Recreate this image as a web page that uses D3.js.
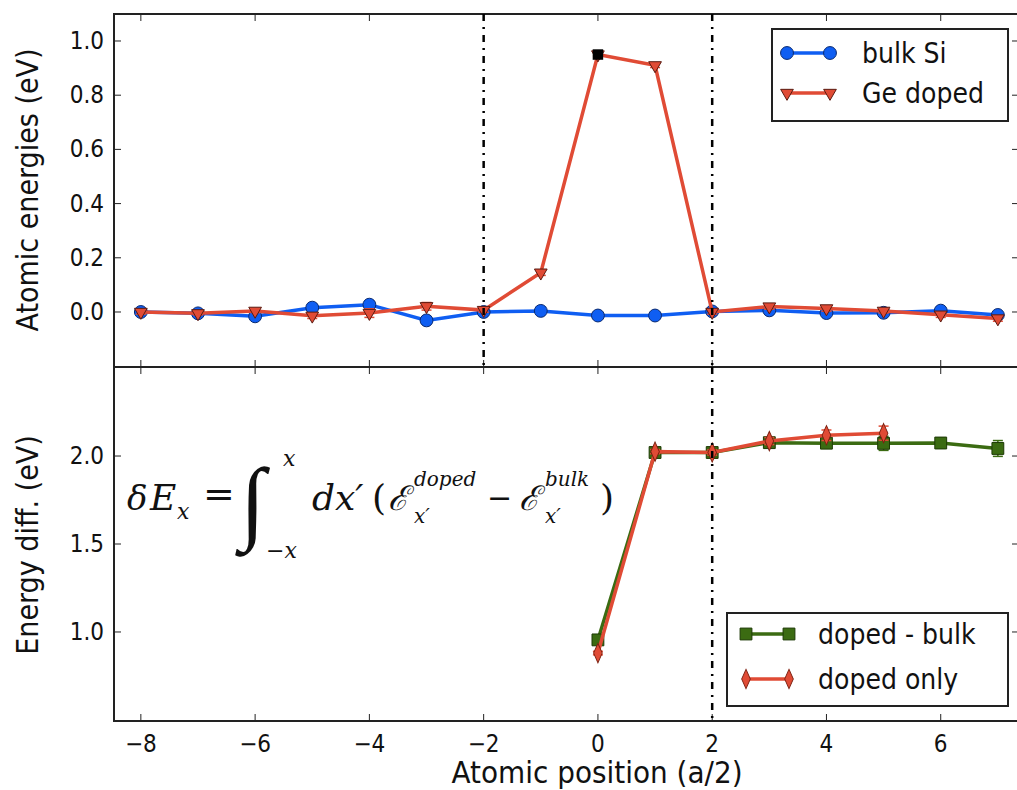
<!DOCTYPE html>
<html>
<head>
<meta charset="utf-8">
<script src="https://cdn.jsdelivr.net/npm/d3@7"></script>
<style>
  body { margin: 0; background: #fff; }
  text { font-family: "DejaVu Sans", sans-serif; fill: #111; }
</style>
</head>
<body>
<div id="chart-area"></div>
<script>
// positions along the chain (a/2)
var positions = [-8, -7, -6, -5, -4, -3, -2, -1, 0, 1, 2, 3, 4, 5, 6, 7];
var bulkSi = [0.0, -0.005, -0.016, 0.016, 0.027, -0.031, 0.0, 0.004, -0.013, -0.013, 0.002, 0.006, -0.004, -0.003, 0.005, -0.011];
var geDoped = [0.0, -0.005, 0.004, -0.014, -0.004, 0.021, 0.007, 0.145, 0.95, 0.91, 0.0, 0.02, 0.013, 0.004, -0.01, -0.024];
var geDopedErr = [0.008, 0.006, 0.006, 0.01, 0.016, 0.014, 0.008, 0.01, 0.005, 0.008, 0.008, 0.01, 0.01, 0.008, 0.01, 0.01];

var diffPositions = [0, 1, 2, 3, 4, 5, 6, 7];
var dopedMinusBulk = [0.955, 2.02, 2.02, 2.076, 2.073, 2.072, 2.074, 2.043];
var dopedMinusBulkErr = [0.01, 0.015, 0.012, 0.015, 0.02, 0.04, 0.03, 0.045];
var dopedOnly = [0.88, 2.025, 2.02, 2.085, 2.118, 2.13];
var dopedOnlyErr = [0.01, 0.012, 0.015, 0.02, 0.03, 0.04];

var xTicks = [-8, -6, -4, -2, 0, 2, 4, 6];
var topTicks = [0.0, 0.2, 0.4, 0.6, 0.8, 1.0];
var bottomTicks = [1.0, 1.5, 2.0];
var boundaries = [-2, 2];

var blue = '#0f5ef2', red = '#e04b35', green = '#3b6b12';

var svg = d3.select('#chart-area').append('svg')
  .attr('width', 1017)
  .attr('height', 790);

var left = 114, right = 1019;
var x = d3.scaleLinear().domain([-8.47, 7.37]).range([left, right]);
var yTop = d3.scaleLinear().domain([-0.203, 1.0996]).range([367, 14]);
var yBot = d3.scaleLinear().domain([0.494, 2.506]).range([721, 367]);

// squeezed text, the figure looks a bit narrow
function label(g, tx, ty, str, size, anchor, rot) {
  var t = g.append('g')
    .attr('transform', 'translate(' + tx + ',' + ty + ')' + (rot ? ' rotate(' + rot + ')' : '') + ' scale(0.9,1)');
  t.append('text')
    .attr('text-anchor', anchor || 'start')
    .attr('font-size', size)
    .text(str);
  return t;
}

function panel(y, yt, top, bottom, showX) {
  var g = svg.append('g');
  // ticks inward on all sides
  xTicks.forEach(function(v) {
    g.append('line').attr('x1', x(v)).attr('x2', x(v)).attr('y1', bottom).attr('y2', bottom - 7).attr('stroke', '#222');
    g.append('line').attr('x1', x(v)).attr('x2', x(v)).attr('y1', top).attr('y2', top + 7).attr('stroke', '#222');
    if (showX) label(g, x(v), bottom + 31, d3.format('')(v).replace('-', '\u2212'), 24, 'middle');
  });
  yt.forEach(function(v) {
    g.append('line').attr('x1', left).attr('x2', left + 7).attr('y1', y(v)).attr('y2', y(v)).attr('stroke', '#222');
    g.append('line').attr('x1', right).attr('x2', right - 7).attr('y1', y(v)).attr('y2', y(v)).attr('stroke', '#222');
    label(g, left - 10, y(v) + 8, d3.format('.1f')(v), 24, 'end');
  });
  g.append('rect')
    .attr('x', left).attr('y', top)
    .attr('width', right - left).attr('height', bottom - top)
    .attr('fill', 'none').attr('stroke', '#222').attr('stroke-width', 2);
  return g;
}

var gTop = panel(yTop, topTicks, 14, 367, false);
var gBot = panel(yBot, bottomTicks, 367, 721, true);

// dash-dot boundaries
boundaries.forEach(function(b) {
  svg.append('line').attr('x1', x(b)).attr('x2', x(b)).attr('y1', 14).attr('y2', 367)
    .attr('stroke', '#000').attr('stroke-width', 2.5).attr('stroke-dasharray', '7,6,2,6');
});
svg.append('line').attr('x1', x(2)).attr('x2', x(2)).attr('y1', 367).attr('y2', 721)
  .attr('stroke', '#000').attr('stroke-width', 2.5).attr('stroke-dasharray', '7,6,2,6');

var sym = {
  circle: d3.symbol().type(d3.symbolCircle).size(130),
  tri: d3.symbol().type(d3.symbolTriangle).size(70),
  square: d3.symbol().type(d3.symbolSquare).size(140),
  diamond: d3.symbol().type(d3.symbolDiamond).size(90)
};

function markTransform(shape, px, py) {
  return 'translate(' + px + ',' + py + ')' + (shape === 'tri' ? ' rotate(180)' : '') + (shape === 'diamond' ? ' scale(0.85,1.1)' : '');
}

function series(g, xs, ys, errs, y, color, shape, edge) {
  var pts = xs.map(function(v, i) { return [v, ys[i], errs ? errs[i] : 0]; });
  g.append('path').datum(pts)
    .attr('fill', 'none').attr('stroke', color).attr('stroke-width', 3.5)
    .attr('d', d3.line().x(function(d) { return x(d[0]); }).y(function(d) { return y(d[1]); }));
  if (errs) {
    pts.forEach(function(d) {
      var y0 = y(d[1] - d[2]), y1 = y(d[1] + d[2]);
      g.append('line').attr('x1', x(d[0])).attr('x2', x(d[0])).attr('y1', y0).attr('y2', y1).attr('stroke', color).attr('stroke-width', 1.5);
      [y0, y1].forEach(function(yy) {
        g.append('line').attr('x1', x(d[0]) - 5).attr('x2', x(d[0]) + 5).attr('y1', yy).attr('y2', yy).attr('stroke', color).attr('stroke-width', 1.5);
      });
    });
  }
  g.selectAll(null).data(pts).enter().append('path')
    .attr('d', sym[shape])
    .attr('transform', function(d) { return markTransform(shape, x(d[0]), y(d[1])); })
    .attr('fill', color).attr('stroke', edge).attr('stroke-width', 1);
}

series(gTop, positions, bulkSi, null, yTop, blue, 'circle', '#0a2a70');
series(gTop, positions, geDoped, geDopedErr, yTop, red, 'tri', '#5a1a10');
// highlighted point at the dopant site
gTop.append('path').attr('d', d3.symbol().type(d3.symbolSquare).size(110))
  .attr('transform', 'translate(' + x(0) + ',' + yTop(geDoped[8]) + ')')
  .attr('fill', '#000');

series(gBot, diffPositions, dopedMinusBulk, dopedMinusBulkErr, yBot, green, 'square', '#1d3a05');
series(gBot, diffPositions.slice(0, dopedOnly.length), dopedOnly, dopedOnlyErr, yBot, red, 'diamond', '#7a2010');

// legends
function legend(bx, by, bw, bh, items) {
  var g = svg.append('g');
  g.append('rect').attr('x', bx).attr('y', by).attr('width', bw).attr('height', bh)
    .attr('fill', '#fff').attr('stroke', '#222').attr('stroke-width', 2);
  items.forEach(function(it) {
    g.append('line').attr('x1', it.x1).attr('x2', it.x2).attr('y1', it.y).attr('y2', it.y)
      .attr('stroke', it.color).attr('stroke-width', 3.5);
    [it.x1, it.x2].forEach(function(px) {
      g.append('path').attr('d', sym[it.shape])
        .attr('transform', markTransform(it.shape, px, it.y))
        .attr('fill', it.color).attr('stroke', it.edge).attr('stroke-width', 1);
    });
    label(g, it.tx, it.y + 10, it.name, 28, 'start');
  });
}
legend(772, 29, 236, 92, [
  {name: 'bulk Si', color: blue, shape: 'circle', edge: '#0a2a70', x1: 787, x2: 830, y: 53, tx: 862},
  {name: 'Ge doped', color: red, shape: 'tri', edge: '#5a1a10', x1: 787, x2: 830, y: 93, tx: 862}
]);
legend(727, 613, 281, 93, [
  {name: 'doped - bulk', color: green, shape: 'square', edge: '#1d3a05', x1: 746, x2: 789, y: 634, tx: 818},
  {name: 'doped only', color: red, shape: 'diamond', edge: '#7a2010', x1: 746, x2: 789, y: 679, tx: 818}
]);

// axis titles
label(svg, 597, 783, 'Atomic position (a/2)', 31, 'middle');
label(svg, 38, 190, 'Atomic energies (eV)', 30, 'middle', -90);
label(svg, 38, 545, 'Energy diff. (eV)', 30, 'middle', -90);

// formula annotation
var f = svg.append('g');
function ft(px, py, str, size, italic) {
  f.append('text').attr('x', px).attr('y', py).attr('font-size', size)
    .attr('font-style', italic === false ? 'normal' : 'italic')
    .style('font-family', '"DejaVu Serif", "Liberation Serif", serif')
    .text(str);
}
ft(127, 510, 'δ', 34);
ft(150, 510, 'E', 36);
ft(177, 519, 'x', 22);
ft(203, 507, '=', 38, false);
f.append('text').attr('x', 240).attr('y', 532).attr('font-size', 92)
  .style('font-family', '"Liberation Serif", serif').text('∫');
ft(283, 466, 'x', 22);
ft(266, 558, '−x', 22);
ft(312, 510, 'dx′', 36);
ft(372, 510, '(', 36, false);
ft(388, 510, 'ℰ', 34);
ft(414, 486, 'doped', 20);
ft(414, 523, 'x′', 20);
ft(487, 508, '−', 30, false);
ft(519, 510, 'ℰ', 34);
ft(545, 486, 'bulk', 20);
ft(545, 523, 'x′', 20);
ft(600, 510, ')', 36, false);
</script>
</body>
</html>
